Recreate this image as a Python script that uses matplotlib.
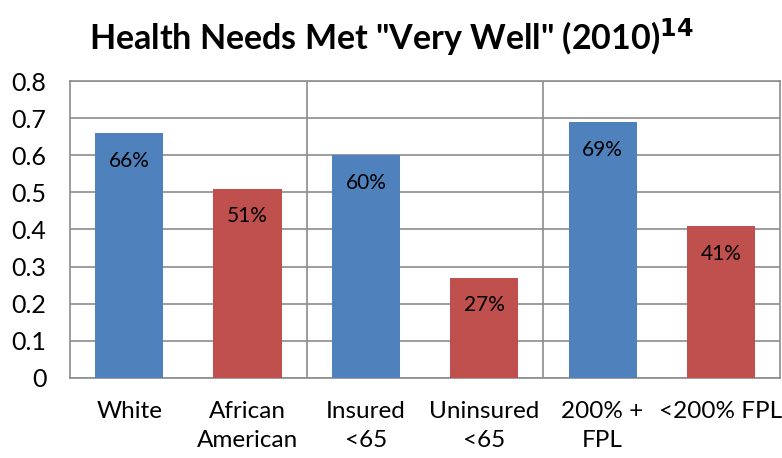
import matplotlib.pyplot as plt

# Chart data
categories = ["White", "African\nAmerican", "Insured\n<65", "Uninsured\n<65", "200% +\nFPL", "<200% FPL"]
values = [0.66, 0.51, 0.60, 0.27, 0.69, 0.41]
labels = ["66%", "51%", "60%", "27%", "69%", "41%"]
colors = ["#4F81BD", "#C0504D", "#4F81BD", "#C0504D", "#4F81BD", "#C0504D"]
y_ticks = [0, 0.1, 0.2, 0.3, 0.4, 0.5, 0.6, 0.7, 0.8]
group_edges = [1.5, 3.5]

plt.rcParams["font.family"] = ["Lato", "DejaVu Sans"]

fig = plt.figure(figsize=(7.82, 4.58), dpi=100)
ax = fig.add_axes([0.0895, 0.175, 0.908, 0.648])

x = list(range(len(categories)))
bars = ax.bar(x, values, width=0.575, color=colors, zorder=3)

for b, lab in zip(bars, labels):
    ax.annotate(lab, (b.get_x() + b.get_width() / 2, b.get_height()),
                xytext=(0, -20), textcoords="offset points",
                ha="center", va="center", fontsize=15, zorder=4)

# gridlines and group separators
for t in y_ticks:
    ax.axhline(t, color="#8c8c8c", lw=1.2, zorder=1)
for g in group_edges:
    ax.axvline(g, color="#8c8c8c", lw=1.2, zorder=1)

ax.set_xlim(-0.5, len(categories) - 0.5)
ax.set_ylim(0, 0.8)
ax.set_yticks(y_ticks)
ax.set_yticklabels(["0" if t == 0 else f"{t:.1f}" for t in y_ticks], fontsize=18)
ax.set_xticks(x)
ax.set_xticklabels(categories, fontsize=17.5, linespacing=1.45, va="top")
ax.tick_params(axis="both", length=0)
ax.tick_params(axis="x", pad=17)
ax.tick_params(axis="y", pad=17)

for s in ax.spines.values():
    s.set_color("#8c8c8c")
    s.set_linewidth(1.2)

fig.suptitle('Health Needs Met "Very Well" (2010)$^{\\mathbf{14}}$',
             fontsize=24.5, fontweight="bold", x=0.5, y=0.965)

fig.savefig("out.png", dpi=100)
